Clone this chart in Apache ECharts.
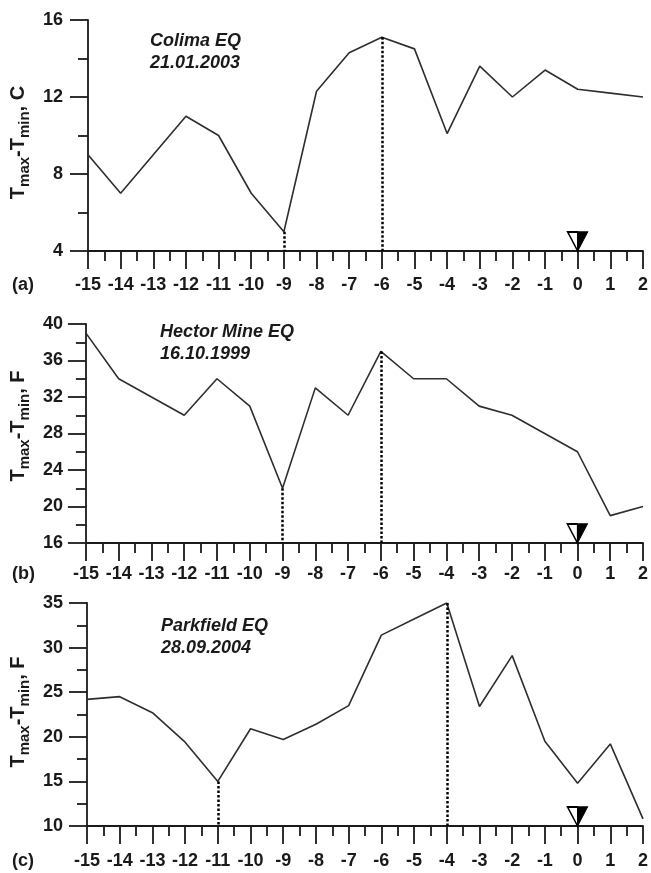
<!DOCTYPE html>
<html>
<head>
<meta charset="utf-8">
<title>Tmax-Tmin before earthquakes</title>
<script src="https://cdn.jsdelivr.net/npm/echarts@6/dist/echarts.min.js"></script>
<style>
    html, body { margin: 0; padding: 0; background: #fff; }
    #tmax_tmin_chart { width: 651px; height: 873px; }
</style>
</head>
<body>
<div id="tmax_tmin_chart"></div>
<script>

// Data
// ------------------------------

// days relative to the earthquake
var days = [-15, -14, -13, -12, -11, -10, -9, -8, -7, -6, -5, -4, -3, -2, -1, 0, 1, 2];

// Tmax-Tmin per day
var colimaValues    = [9.0, 7.0, 9.0, 11.0, 10.0, 7.0, 5.0, 12.3, 14.3, 15.1, 14.5, 10.1, 13.6, 12.0, 13.4, 12.4, 12.2, 12.0];
var hectorValues    = [39, 34, 32, 30, 34, 31, 22, 33, 30, 37, 34, 34, 31, 30, 28, 26, 19, 20];
var parkfieldValues = [24.2, 24.5, 22.7, 19.4, 15.0, 20.9, 19.7, 21.4, 23.5, 31.4, 33.2, 35.0, 23.4, 29.1, 19.5, 14.8, 19.2, 10.8];

// days marked with dotted drop lines
var colimaMarks    = [-9, -6];
var hectorMarks    = [-9, -6];
var parkfieldMarks = [-11, -4];

// earthquake day (triangle)
var quakeDay = 0;

// y axis ranges
var yMins      = [4, 16, 10];
var yMaxs      = [16, 40, 35];
var yIntervals = [4, 4, 5];

// texts
var panelLabels = ['(a)', '(b)', '(c)'];
var eventNames  = ['Colima EQ', 'Hector Mine EQ', 'Parkfield EQ'];
var eventDates  = ['21.01.2003', '16.10.1999', '28.09.2004'];
var unitNames   = ['C', 'F', 'F'];


// Setup module
// ------------------------------

var EchartsTmaxTmin = function() {

    var FONT = '"Liberation Sans", Arial, sans-serif';
    var INK = '#1a1a1a';

    // panel boxes: [left, top, height, axis name gap, y label margin, x label margin, name padding]
    var panels = [
        [88, 20, 231, 56, 25, 25, [0, 14, 0, 0]],
        [84, 324, 219, 52, 23, 22, [0, 0, 0, 15]],
        [87, 603, 223, 55, 24, 26, [0, 0, 0, 5]]
    ];
    var labelTops = [276, 565, 852];
    var eventPos = [[150, 30], [160, 321], [161, 615]];

    var seriesValues = [colimaValues, hectorValues, parkfieldValues];
    var seriesMarks = [colimaMarks, hectorMarks, parkfieldMarks];

    var _chart = function() {
        if (typeof echarts == 'undefined') {
            console.warn('Warning - echarts.min.js is not loaded.');
            return;
        }

        var element = document.getElementById('tmax_tmin_chart');
        if (!element) return;

        var chart = echarts.init(element, null, {renderer: 'canvas'});

        var grids = [], xAxes = [], yAxes = [], series = [], graphics = [];

        for (var p = 0; p < 3; p++) {
            var box = panels[p];
            var values = seriesValues[p];

            grids.push({
                left: box[0],
                right: 6,
                top: box[1],
                height: box[2]
            });

            xAxes.push({
                type: 'value',
                gridIndex: p,
                min: days[0],
                max: days[days.length - 1],
                interval: 1,
                axisLine: {show: true, onZero: false, lineStyle: {color: INK, width: 1.8}},
                axisTick: {show: true, length: 18, lineStyle: {color: INK, width: 1.8}},
                minorTick: {show: true, splitNumber: 2, length: 10, lineStyle: {color: INK, width: 1.8}},
                splitLine: {show: false},
                axisLabel: {
                    margin: box[5],
                    color: INK,
                    fontSize: 18,
                    fontWeight: 'bold',
                    fontFamily: FONT
                }
            });

            yAxes.push({
                type: 'value',
                gridIndex: p,
                min: yMins[p],
                max: yMaxs[p],
                interval: yIntervals[p],
                axisLine: {show: true, onZero: false, lineStyle: {color: INK, width: 1.8}},
                axisTick: {show: true, length: 18, lineStyle: {color: INK, width: 1.8}},
                minorTick: {show: true, splitNumber: 2, length: 10, lineStyle: {color: INK, width: 1.8}},
                splitLine: {show: false},
                axisLabel: {
                    margin: box[4],
                    color: INK,
                    fontSize: 18,
                    fontWeight: 'bold',
                    fontFamily: FONT
                },
                name: '{t|T}{s|max}{t|-T}{s|min}{t|, ' + unitNames[p] + '}',
                nameLocation: 'middle',
                nameRotate: 90,
                nameGap: box[3],
                nameTextStyle: {
                    padding: box[6],
                    rich: {
                        t: {fontSize: 20, fontWeight: 'bold', fontFamily: FONT, color: INK, verticalAlign: 'top'},
                        s: {fontSize: 15, fontWeight: 'bold', fontFamily: FONT, color: INK, verticalAlign: 'bottom', padding: [9, 0, 0, 0]}
                    }
                }
            });

            // dotted drop lines from the data
            var drops = seriesMarks[p].map(function(day) {
                var v = values[days.indexOf(day)];
                return [{coord: [day, v]}, {coord: [day, yMins[p]]}];
            });

            series.push({
                name: eventNames[p],
                type: 'line',
                xAxisIndex: p,
                yAxisIndex: p,
                data: days.map(function(d, i) { return [d, values[i]]; }),
                showSymbol: false,
                symbol: 'none',
                animation: false,
                lineStyle: {color: '#2e2e2e', width: 1.6},
                markLine: {
                    silent: true,
                    symbol: 'none',
                    label: {show: false},
                    lineStyle: {color: '#000', width: 2.5, type: [2.5, 2]},
                    data: drops
                },
                markPoint: {
                    silent: true,
                    label: {show: false},
                    data: [{
                        coord: [quakeDay, yMins[p]],
                        symbol: 'path://M0,0L10,0L10,20Z',
                        symbolSize: [10, 19],
                        symbolOffset: [-5, -9.5],
                        itemStyle: {color: '#fff', borderColor: '#000', borderWidth: 1.6}
                    }, {
                        coord: [quakeDay, yMins[p]],
                        symbol: 'path://M0,0L10,0L0,20Z',
                        symbolSize: [10, 19],
                        symbolOffset: [5, -9.5],
                        itemStyle: {color: '#000', borderColor: '#000', borderWidth: 1}
                    }]
                }
            });

            // panel letter
            graphics.push({
                type: 'text',
                left: 12,
                top: labelTops[p],
                style: {text: panelLabels[p], font: 'bold 18px ' + FONT, fill: INK}
            });

            // event name and date
            graphics.push({
                type: 'text',
                left: eventPos[p][0],
                top: eventPos[p][1],
                style: {
                    text: eventNames[p] + '\n' + eventDates[p],
                    font: 'italic bold 18px ' + FONT,
                    lineHeight: 22,
                    fill: INK
                }
            });
        }

        chart.setOption({
            backgroundColor: '#fff',
            animation: false,
            grid: grids,
            xAxis: xAxes,
            yAxis: yAxes,
            series: series,
            graphic: graphics
        });

        window.onresize = function () {
            chart.resize();
        };
    };

    return {
        init: function() {
            _chart();
        }
    }
}();


// Initialize module
// ------------------------------

document.addEventListener('DOMContentLoaded', function() {
    EchartsTmaxTmin.init();
});
</script>
</body>
</html>
